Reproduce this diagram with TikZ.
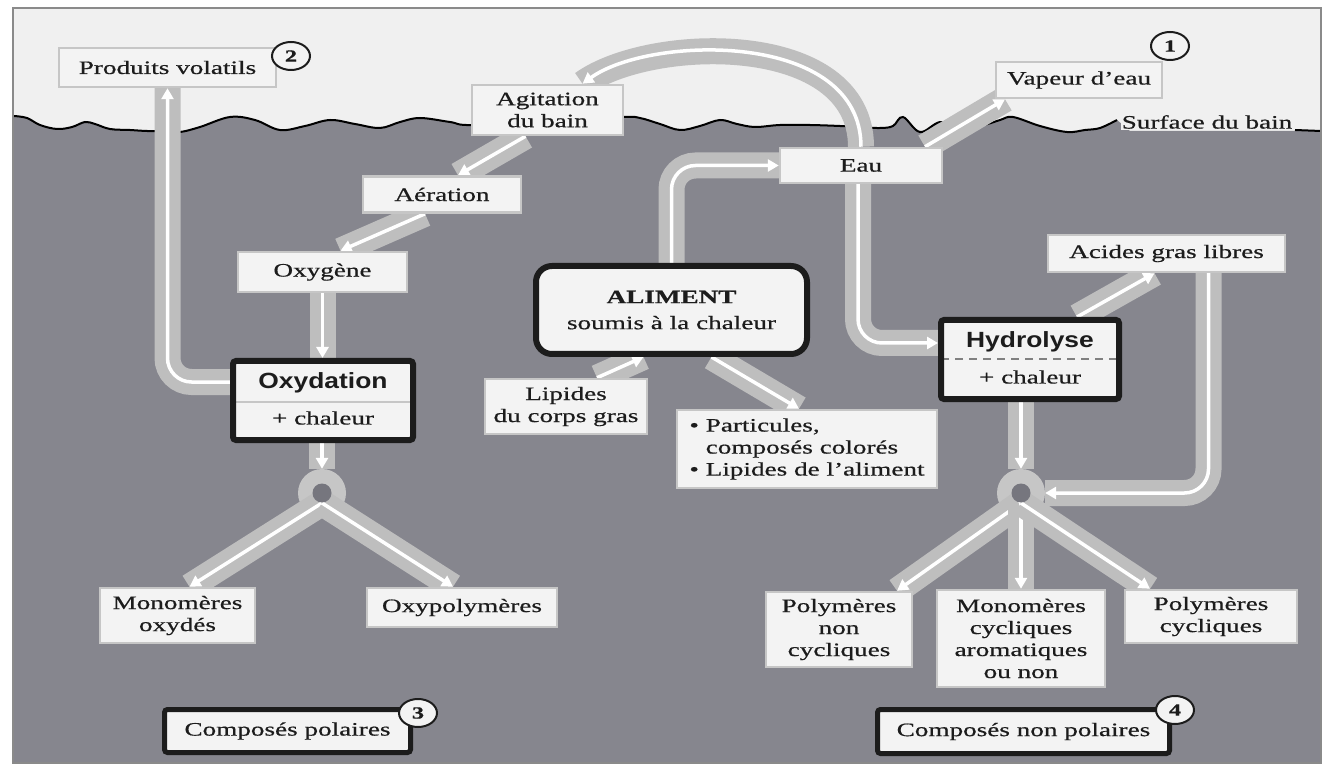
\documentclass[tikz,border=0pt]{standalone}
\usepackage{fontspec}
\setmainfont{Liberation Serif}[FakeStretch=1.43,FakeBold=0.6]
\newfontfamily\hsans{Liberation Sans}[FakeStretch=1.2]
\usetikzlibrary{arrows.meta,shapes.geometric}
\pgfdeclarelayer{bglayer}
\pgfdeclarelayer{bandlayer}
\pgfsetlayers{bglayer,bandlayer,main}
\definecolor{topbg}{HTML}{F0F0F0}
\definecolor{bath}{HTML}{86868E}
\definecolor{band}{HTML}{BEBEBE}
\definecolor{ringc}{HTML}{C6C6C6}
\definecolor{boxfill}{HTML}{F3F3F3}
\definecolor{boxline}{HTML}{C6C6C6}
\definecolor{ink}{HTML}{1C1C1C}
\definecolor{dotc}{HTML}{76767E}
\definecolor{framec}{HTML}{8A8A8A}
\tikzset{
 txt/.style={font=\fontsize{19}{22}\selectfont, text=ink},
 plainbox/.style={txt, draw=boxline, line width=2.5pt, fill=boxfill, inner sep=0pt, align=center},
 heavybox/.style={txt, draw=ink, line width=6pt, fill=boxfill, inner sep=0pt, rounded corners=3pt, align=center},
 numcirc/.style={ellipse, draw=ink, line width=2pt, fill=boxfill, inner sep=0pt, minimum width=38pt, minimum height=28pt, font=\fontsize{17}{17}\selectfont\bfseries, text=ink},
 flow/.style={preaction={draw=band, line width=26pt, -}, draw=white, line width=3.5pt, -{Triangle[width=12pt,length=11pt]}, rounded corners=24pt},
 junc/.style={circle, fill=ringc, minimum size=48pt, inner sep=0pt},
 boldsans/.style={font={\hsans\bfseries\fontsize{22}{24}\selectfont}, text=ink, inner sep=0pt},
 wave/.style={draw=black, line width=2pt},
}
\begin{document}
\begin{tikzpicture}[x=1pt,y=-1pt]
\useasboundingbox (0,0) rectangle (1331,767);
\begin{pgfonlayer}{bglayer}
\fill[white] (0,0) rectangle (1331,767);
\fill[topbg] (13,8) rectangle (1321,763);
\fill[bath] plot[smooth, tension=0.6] coordinates {(14,116) (27,118) (40,125) (57,129) (72,127) (85,122) (95,124) (110,129) (130,130) (147,131) (165,131) (180,132) (200,127) (230,117) (255,120) (280,130) (305,126) (330,120) (355,124) (380,128) (400,122) (420,118) (450,122) (472,125) (550,120) (623,117) (640,118) (660,124) (680,130) (700,126) (720,120) (737,124) (755,127) (780,125) (810,125) (840,126) (858,127) (880,128) (893,126) (903,117) (920,132) (940,122) (960,126) (983,125) (1000,120) (1013,117) (1040,126) (1067,132) (1085,130) (1100,128) (1117,120)} -- (1130,131) -- (1321,131) -- (1321,763) -- (14,763) -- cycle;
\draw[wave] plot[smooth, tension=0.6] coordinates {(14,116) (27,118) (40,125) (57,129) (72,127) (85,122) (95,124) (110,129) (130,130) (147,131) (165,131) (180,132) (200,127) (230,117) (255,120) (280,130) (305,126) (330,120) (355,124) (380,128) (400,122) (420,118) (450,122) (472,125) (550,120) (623,117) (640,118) (660,124) (680,130) (700,126) (720,120) (737,124) (755,127) (780,125) (810,125) (840,126) (858,127) (880,128) (893,126) (903,117) (920,132) (940,122) (960,126) (983,125) (1000,120) (1013,117) (1040,126) (1067,132) (1085,130) (1100,128) (1117,120)};
\draw[wave] (1295,130) -- (1321,131);
\draw[framec, line width=1.5pt] (13,8) rectangle (1321,763);
\end{pgfonlayer}

% boxes
\node[plainbox, minimum width=217pt, minimum height=39pt] (prod) at (167.5,67.5) {Produits volatils};
\node[plainbox, minimum width=166pt, minimum height=36pt] (vap) at (1079,80) {Vapeur d'eau};
\node[plainbox, minimum width=151pt, minimum height=50pt] (agit) at (547.5,110) {Agitation\\du bain};
\node[plainbox, minimum width=162pt, minimum height=35pt] (eau) at (861,165.5) {Eau};
\node[plainbox, minimum width=158pt, minimum height=36pt] (aer) at (442,194.5) {Aération};
\node[plainbox, minimum width=169pt, minimum height=40pt] (oxy) at (322.5,272) {Oxygène};
\node[heavybox, minimum width=180pt, minimum height=79pt,
  path picture={\draw[boxline, line width=2pt] ([yshift=-1.5pt]path picture bounding box.west) -- ([yshift=-1.5pt]path picture bounding box.east);}] (oxyd) at (323,400.5) {};
\node[boldsans] (oxydt) at ([yshift=17.5pt]oxyd.center) {Oxydation};
\node[txt, inner sep=0pt] (oxydc) at ([yshift=-17.5pt]oxyd.center) {+ chaleur};
\node[heavybox, rounded corners=16pt, minimum width=271pt, minimum height=88pt] (aliment) at (671.5,310) {{\bfseries ALIMENT}\\[4pt]soumis à la chaleur};
\node[plainbox, minimum width=162pt, minimum height=55pt] (lip) at (566,406.5) {Lipides\\du corps gras};
\node[plainbox, align=left, minimum width=260pt, minimum height=78pt] (part) at (807,449) {• Particules,\\\phantom{• }composés colorés\\• Lipides de l'aliment};
\node[heavybox, minimum width=178pt, minimum height=79pt,
  path picture={\draw[draw=gray, line width=2pt, dash pattern=on 8pt off 6pt] (path picture bounding box.west) -- (path picture bounding box.east);}] (hyd) at (1030,359.5) {};
\node[boldsans] (hydt) at ([yshift=17.5pt]hyd.center) {Hydrolyse};
\node[txt, inner sep=0pt] (hydc) at ([yshift=-17.5pt]hyd.center) {+ chaleur};
\node[plainbox, minimum width=237pt, minimum height=37pt] (acid) at (1166.5,253.5) {Acides gras libres};
\node[plainbox, minimum width=155pt, minimum height=55pt] (monox) at (177.5,615.5) {Monomères\\oxydés};
\node[plainbox, minimum width=190pt, minimum height=39pt] (oxypol) at (462,607.5) {Oxypolymères};
\node[heavybox, line width=5pt, minimum width=246pt, minimum height=43pt] (compol) at (287.5,731) {Composés polaires};
\node[plainbox, minimum width=146pt, minimum height=75pt] (polnc) at (839,629.5) {Polymères\\non\\cycliques};
\node[plainbox, minimum width=168pt, minimum height=97pt] (monocyc) at (1021,638.5) {Monomères\\cycliques\\aromatiques\\ou non};
\node[plainbox, minimum width=172pt, minimum height=53pt] (polcyc) at (1211,616.5) {Polymères\\cycliques};
\node[heavybox, line width=5pt, minimum width=292pt, minimum height=44pt] (compnp) at (1023.5,731.5) {Composés non polaires};
\node[txt, fill=topbg, inner sep=1pt] (surf) at (1207,122) {Surface du bain};

% numbered circles
\node[numcirc] (c2) at (291,56) {2};
\node[numcirc] (c1) at (1170,46) {1};
\node[numcirc] (c3) at (418,713) {3};
\node[numcirc] (c4) at (1175,710) {4};

% flows
\begin{pgfonlayer}{bandlayer}
\node[junc] (j1) at (322,493) {};
\node[junc] (j2) at (1021,493) {};
\coordinate (j1b) at (322,503);
\coordinate (j2b) at (1021,503);
\draw[flow] ([yshift=18.5pt]oxyd.west) -| (prod.south);
\draw[flow] (oxy.south) -- (oxy.south |- oxyd.north);
\draw[flow] ([xshift=-17pt]aer.south) -- ([xshift=18pt]oxy.north);
\draw[flow] ([xshift=-22pt]agit.south) -- ([xshift=16pt]aer.north);
\draw[flow] (eau.north) .. controls (861,30) and (650,35) .. ([xshift=35pt]agit.north);
\draw[flow] (aliment.north) |- (eau.west);
\draw[flow] ([xshift=64pt]eau.north) -- ([xshift=-74pt]vap.south);
\draw[flow] ([xshift=-3pt]eau.south) |- ([yshift=16.5pt]hyd.west);
\draw[flow] ([xshift=31pt]lip.north) -- ([xshift=-28pt]aliment.south);
\draw[flow] ([xshift=40pt]aliment.south) -- ([xshift=-8pt]part.north);
\draw[flow] ([xshift=47pt]hyd.north) -- ([xshift=-12pt]acid.south);
\draw[flow] ([xshift=42pt]acid.south) |- (j2.east);
\draw[flow] (hyd.south -| j2.north) -- (j2.north);
\draw[flow] (oxyd.south -| j1.north) -- (j1.north);
\draw[flow] (j1b) -- ([xshift=12pt]monox.north);
\draw[flow] (j1b) -- ([xshift=-9pt]oxypol.north);
\draw[flow] (j2b) -- ([xshift=58pt]polnc.north);
\draw[flow] (j2b) -- (monocyc.north);
\draw[flow] (j2b) -- ([xshift=-61pt]polcyc.north);
\fill[dotc] (j1) circle (9.5pt);
\fill[dotc] (j2) circle (9.5pt);
\end{pgfonlayer}
\end{tikzpicture}
\end{document}
